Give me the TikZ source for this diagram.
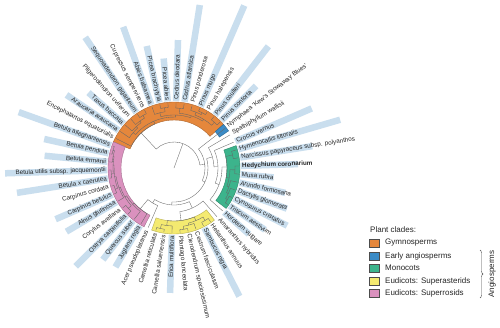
\documentclass[tikz,border=0pt]{standalone}
\usepackage{fontspec}
\setmainfont{Liberation Sans}
\usetikzlibrary{decorations.pathreplacing}

\definecolor{gymno}{HTML}{E5873C}
\definecolor{early}{HTML}{3B8BC6}
\definecolor{mono}{HTML}{3CB48C}
\definecolor{aster}{HTML}{F4EA70}
\definecolor{rosid}{HTML}{DA91BE}
\definecolor{barblue}{HTML}{C9DEEE}

% angle of a tip position on the circle
\newcommand{\pa}[1]{1.8-7.2*(#1)}
% radial stem from parent radius to node radius, then the node's arc
\newcommand{\clade}[5]{%
  \draw[treeline] ({\pa{#3}}:#1) -- ({\pa{#3}}:#2);
  \draw[treeline] ({\pa{#4}}:#2) arc[start angle={\pa{#4}}, end angle={\pa{#5}}, radius=#2];}
\newcommand{\tipline}[2]{\draw[treeline] ({\pa{#2}}:#1) -- ({\pa{#2}}:65);}
% highlighted clade: colour, inner radius, first and last position
\newcommand{\band}[4]{%
  \fill[#1, draw=#1!75!black, line width=0.4pt] ({\pa{#3}}:#2) arc[start angle={\pa{#3}}, end angle={\pa{#4}}, radius=#2]
    -- ({\pa{#4}}:66) arc[start angle={\pa{#4}}, end angle={\pa{#3}}, radius=66] -- cycle;}

\tikzset{
  treeline/.style={draw=black!60, line width=0.35pt},
  tiplabel/.style={font=\fontsize{6.3}{7}\selectfont, text=black!85, inner sep=1pt},
  barline/.style={draw=barblue, line width=6.5pt},
  swatch/.style={draw=black!70, line width=0.4pt, minimum width=10pt, minimum height=8pt, inner sep=0pt},
  legtext/.style={font=\fontsize{8}{9}\selectfont, text=black!85, anchor=west, inner sep=0pt}
}

\begin{document}
\begin{tikzpicture}[x=1pt, y=1pt]
    \path[use as bounding box, fill=white] (-174,-159) rectangle (326,168);

    % Bars behind the tip labels
    \foreach \i/\r in {0/124, 1/100, 2/114, 3/120, 4/127, 5/110, 6/100, 9/144, 13/125,
        17/115, 18/116, 19/139, 21/125, 22/129, 24/159, 25/169, 26/130, 27/133, 28/165,
        30/130, 31/114, 33/158, 35/150, 36/125, 37/110, 38/128, 39/165, 41/177, 43/154,
        44/116, 47/150, 48/173, 49/140}
        \draw[barline] ({\pa{\i}}:67) -- ({\pa{\i}}:\r);

    % Clade highlights
    \band{gymno}{48}{28.5}{44.5}
    \band{early}{55}{-5.5}{-4.5}
    \band{mono}{53}{-2.5}{5.5}
    \band{aster}{53}{7.5}{15.5}
    \band{rosid}{53}{16.5}{28.5}

    % Root
    \draw[treeline] (0,0) -- ({\pa{40.53}}:26);
    \draw[treeline] ({\pa{31.75}}:26) arc[start angle={\pa{31.75}}, end angle={\pa{49.31}}, radius=26];

    % Internal nodes
    \foreach \rp/\r/\p/\a/\b in {26/31/-0.69/-5/3.62, 31/34/3.62/-1.99/13.23,
        34/40/-1.99/-4/0.02, 40/44/0.02/-3/3.05, 44/48/3.05/0.094/6, 48/53/0.094/-1.5/1.6875,
        53/60/-1.5/-2/-1, 53/56/1.6875/0.5/2.875, 56/61/0.5/0/1, 56/58/2.875/2/3.75,
        58/60/3.75/3/4.5, 60/62/4.5/4/5,
        34/37/13.23/9.34/17.13, 37/44/9.34/7/11.69, 44/53/11.69/9.625/13.75,
        53/57/9.625/8.5/10.75, 57/61/8.5/8/9, 57/59/10.75/10/11.5, 59/62/11.5/11/12,
        53/58/13.75/13/14.5, 58/62/14.5/14/15,
        37/41/17.13/16/18.25, 41/53/18.25/17/19.51, 53/55/19.51/18/21.02, 55/57/21.02/19.5/22.53,
        57/61/19.5/19/20, 57/58.5/22.53/21/24.06, 58.5/60/24.06/22.5/25.625, 60/62.5/22.5/22/23,
        60/61/25.625/24.5/26.75, 61/63/24.5/24/25, 61/62/26.75/26/27.5, 62/63.5/27.5/27/28,
        26/48/31.75/29/34.5, 48/51/34.5/30.94/38, 51/54/30.94/30/31.875, 54/56/31.875/31/32.75,
        56/58/32.75/32/33.5, 58/61/33.5/33/34, 51/53/38/35.75/40.3, 53/57/35.75/35/36.5,
        57/61/36.5/36/37, 53/55/40.3/38.5/42.1, 55/60/38.5/38/39, 55/57/42.1/40.75/43.5,
        57/60/40.75/40/41.5, 60/62/41.5/41/42, 57/61/43.5/43/44}
        \clade{\rp}{\r}{\p}{\a}{\b};

    % Tips
    \foreach \r/\p in {31/-5, 40/-4, 44/-3, 48/6, 60/-2, 60/-1, 61/0, 61/1, 58/2, 60/3, 62/4, 62/5,
        44/7, 61/8, 61/9, 59/10, 62/11, 62/12, 58/13, 62/14, 62/15,
        41/16, 53/17, 55/18, 61/19, 61/20, 58.5/21, 62.5/22, 62.5/23, 63/24, 63/25, 62/26,
        63.5/27, 63.5/28, 48/29, 54/30, 56/31, 58/32, 61/33, 61/34, 57/35, 61/36, 61/37,
        60/38, 60/39, 60/40, 62/41, 62/42, 61/43, 61/44}
        \tipline{\r}{\p};

    % Tip labels, right half
    \foreach \i/\txt in {0/{\bfseries Hedychium coronarium}, 1/Musa rubra, 2/Arundo formosana,
        3/Dactylis glomerata, 4/Cynosurus cristatus, 5/Triticum aestivum, 6/Hordeum vulgare,
        7/Amaranthus hybridus, 8/Helianthus annuus, 9/Sambucus nigra, 10/Cestrum fasciculatum,
        11/Clerodendrum speciosissimum, 12/Plantago lanceolata, 38/Cedrus deodara,
        39/Cedrus atlantica, 40/Pinus ponderosa, 41/Pinus mugo, 42/Pinus halepensis,
        43/Pinus coulteri, 44/Pinus contorta, 45/Nymphaea 'Kew's Stowaway Blues',
        46/Spathiphyllum wallisii, 47/Crocus vernus, 48/Hymenocallis littoralis,
        49/Narcissus papyraceus subsp. polyanthos}
        \node[tiplabel, anchor=west, rotate={\pa{\i}}] (tip\i) at ({\pa{\i}}:67) {\txt};

    % Tip labels, left half
    \foreach \i/\txt in {13/Erica multiflora, 14/Camellia saluenensis, 15/Camellia reticulata,
        16/Acer pseudoplatanus, 17/Juglans regia, 18/Quercus suber, 19/Ostrya carpinifolia,
        20/Corylus avellana, 21/Alnus glutinosa, 22/Carpinus betulus, 23/Carpinus cordata,
        24/Betula x caerulea, 25/Betula utilis subsp. jacquemontii, 26/Betula ermanii,
        27/Betula pendula, 28/Betula alleghaniensis, 29/Encephalartos equatorialis,
        30/Araucaria araucana, 31/Taxus baccata, 32/Pilgerodendron uviferum,
        33/Sequoiadendron giganteum, 34/Cupressus sempervirens, 35/Abies balsamea,
        36/Picea brachytyla, 37/Picea abies}
        \node[tiplabel, anchor=east, rotate={\pa{\i}+180}] (tip\i) at ({\pa{\i}}:67) {\txt};

    % Legend
    \node[legtext] (legtitle) at (196,-62) {Plant clades:};
    \node[swatch, fill=gymno] (swgym) at (200,-75) {};
    \node[swatch, fill=early] (swearly) at (200,-88) {};
    \node[swatch, fill=mono] (swmono) at (200,-100) {};
    \node[swatch, fill=aster] (swaster) at (200,-113) {};
    \node[swatch, fill=rosid] (swrosid) at (200,-125) {};
    \node[legtext] (lggym) at (211,-75) {Gymnosperms};
    \node[legtext] (lgearly) at (211,-88) {Early angiosperms};
    \node[legtext] (lgmono) at (211,-100) {Monocots};
    \node[legtext] (lgaster) at (211,-113) {Eudicots: Superasterids};
    \node[legtext] (lgrosid) at (211,-125) {Eudicots: Superrosids};

    \coordinate (bracetop) at (306,-82);
    \coordinate (bracebot) at (306,-130);
    \draw[black!70, line width=0.4pt, decorate, decoration={brace, amplitude=3pt}] (bracetop) -- (bracebot);
    \node[legtext, anchor=center, rotate=90] (angio) at (318,-106) {Angiosperms};
\end{tikzpicture}
\end{document}
